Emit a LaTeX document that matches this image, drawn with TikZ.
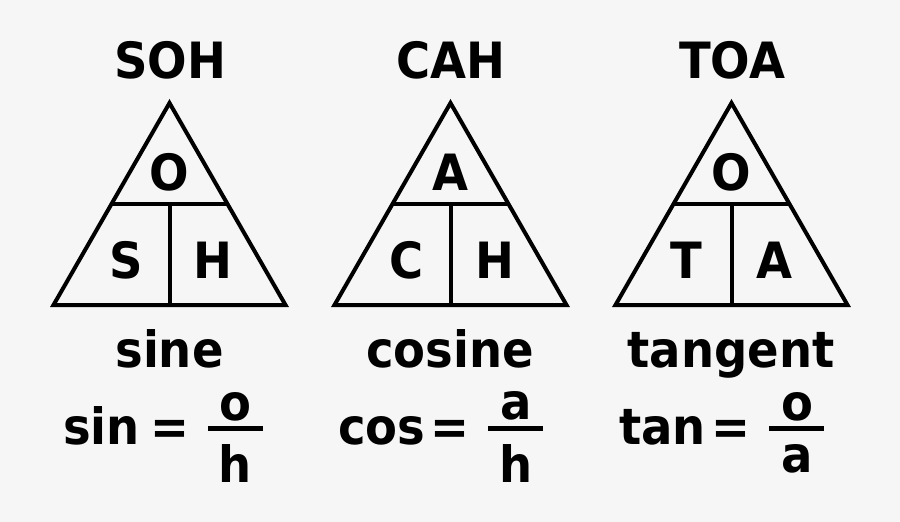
\documentclass[tikz,border=0pt]{standalone}
\usepackage{fontspec}
\setmainfont{DejaVu Sans}
\usetikzlibrary{calc}
\newcommand{\sq}[1]{\scalebox{0.93}[1]{#1}}
\definecolor{bgc}{HTML}{F6F6F6}
\begin{document}
\begin{tikzpicture}[x=1pt,y=-1pt,
  lbl/.style={anchor=base, inner sep=0pt, font=\fontsize{50}{60}\selectfont\bfseries},
  tri/.style={line width=4pt, line join=miter, black},
  bar/.style={line width=5pt, black}]
\fill[bgc] (0,0) rectangle (900,522);
\useasboundingbox (0,0) rectangle (900,522);
% ---- triangles
\foreach \cx/\nm in {169.5/a, 450.5/b, 731.5/c}{
  \coordinate (\nm top) at (\cx,103);
  \coordinate (\nm bl) at (\cx-116,305);
  \coordinate (\nm br) at (\cx+116,305);
  \coordinate (\nm ml) at ($(\nm top)!0.5!(\nm bl)$);
  \coordinate (\nm mr) at ($(\nm top)!0.5!(\nm br)$);
  \coordinate (\nm mm) at (\cx,204);
  \coordinate (\nm bm) at (\cx,305);
  \draw[tri] (\nm top) -- (\nm br) -- (\nm bl) -- cycle;
  \draw[tri] (\nm ml) -- (\nm mr);
  \draw[tri] (\nm mm) -- (\nm bm);
}
% ---- titles
\node[lbl] (t1) at (170,78) {\sq{SOH}};
\node[lbl] (t2) at (451,78) {\sq{CAH}};
\node[lbl] (t3) at (732,78) {\sq{TOA}};
% ---- triangle letters
\node[lbl] (o1) at (169,190) {\sq{O}};
\node[lbl] (s1) at (126,278) {\sq{S}};
\node[lbl] (h1) at (213,278) {\sq{H}};
\node[lbl] (a2) at (450,190) {\sq{A}};
\node[lbl] (c2) at (407,278) {\sq{C}};
\node[lbl] (h2) at (495,278) {\sq{H}};
\node[lbl] (o3) at (731,190) {\sq{O}};
\node[lbl] (t3l) at (686,278) {\sq{T}};
\node[lbl] (a3) at (774,278) {\sq{A}};
% ---- names
\node[lbl] (n1) at (169.5,367) {\sq{sine}};
\node[lbl] (n2) at (450,367) {\sq{cosine}};
\node[lbl] (n3) at (731,367) {\sq{tangent}};
% ---- equations
\node[lbl, anchor=base west] (f1) at (63,444) {\sq{sin}};
\node[lbl] (e1) at (170,444) {\sq{=}};
\node[lbl] (nu1) at (235,420) {\sq{o}};
\node[lbl] (de1) at (235,482) {\sq{h}};
\draw[bar] (208,428) -- (263,428);
\node[lbl, anchor=base west] (f2) at (338,444) {\sq{cos}};
\node[lbl] (e2) at (450,444) {\sq{=}};
\node[lbl] (nu2) at (516,419) {\sq{a}};
\node[lbl] (de2) at (516,482) {\sq{h}};
\draw[bar] (488,428) -- (543,428);
\node[lbl, anchor=base west] (f3) at (619,444) {\sq{tan}};
\node[lbl] (e3) at (731,444) {\sq{=}};
\node[lbl] (nu3) at (797,420) {\sq{o}};
\node[lbl] (de3) at (797,472) {\sq{a}};
\draw[bar] (769,428) -- (824,428);
\end{tikzpicture}
\end{document}
